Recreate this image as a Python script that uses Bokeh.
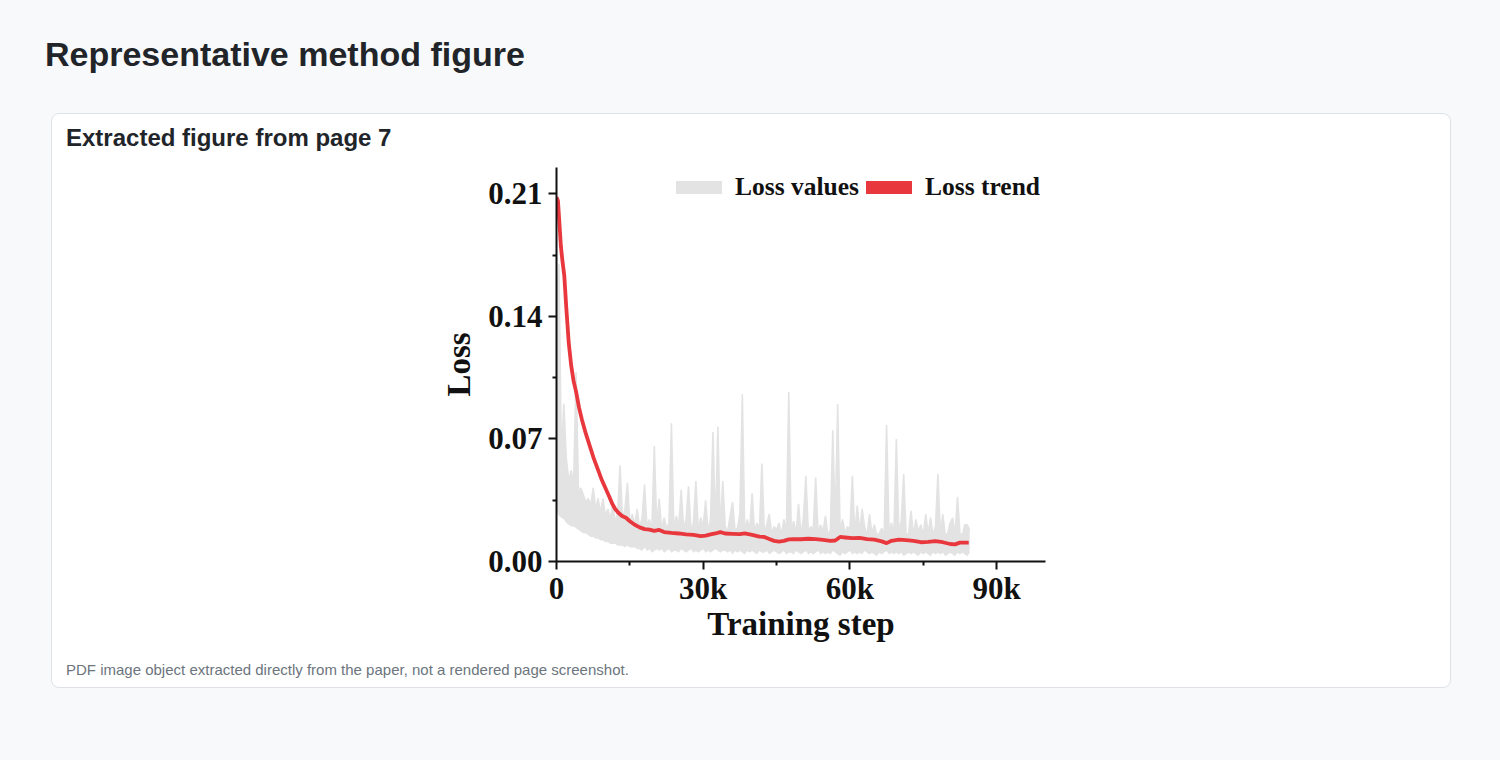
from bokeh.plotting import figure
from bokeh.models import Range1d, FixedTicker, Legend, LegendItem, Div
from bokeh.layouts import column
from bokeh.embed import file_html
from bokeh.resources import INLINE

page_title = "Representative method figure"
card_title = "Extracted figure from page 7"
caption = "PDF image object extracted directly from the paper, not a rendered page screenshot."

x_label = "Training step"
y_label = "Loss"
x_ticks = [0, 30000, 60000, 90000]
x_tick_labels = ["0", "30k", "60k", "90k"]
x_minor = [15000, 45000, 75000]
y_ticks = [0.0, 0.07, 0.14, 0.21]
y_tick_labels = ["0.00", "0.07", "0.14", "0.21"]
y_minor = [0.035, 0.105, 0.175]

series_names = ["Loss values", "Loss trend"]

# raw loss, upper envelope of the noisy curve, every 500 steps
loss_values = [
    0.150, 0.170, 0.060, 0.090, 0.059, 0.046, 0.052, 0.044, 0.108, 0.040,
    0.042, 0.038, 0.034, 0.036, 0.032, 0.042, 0.030, 0.036, 0.028, 0.036,
    0.026, 0.030, 0.024, 0.033, 0.022, 0.028, 0.055, 0.024, 0.030, 0.045,
    0.022, 0.027, 0.021, 0.030, 0.019, 0.025, 0.044, 0.020, 0.024, 0.018,
    0.066, 0.020, 0.036, 0.018, 0.025, 0.019, 0.022, 0.079, 0.018, 0.026,
    0.020, 0.041, 0.019, 0.024, 0.043, 0.018, 0.022, 0.046, 0.018, 0.025,
    0.020, 0.035, 0.017, 0.024, 0.074, 0.019, 0.077, 0.018, 0.046, 0.020,
    0.017, 0.026, 0.034, 0.018, 0.019, 0.027, 0.0955, 0.017, 0.024, 0.018,
    0.039, 0.017, 0.022, 0.018, 0.056, 0.016, 0.021, 0.027, 0.016, 0.020,
    0.018, 0.022, 0.015, 0.024, 0.017, 0.097, 0.018, 0.023, 0.016, 0.033,
    0.015, 0.025, 0.049, 0.017, 0.020, 0.018, 0.048, 0.016, 0.021, 0.017,
    0.026, 0.015, 0.018, 0.075, 0.022, 0.090, 0.017, 0.024, 0.016, 0.020,
    0.018, 0.049, 0.016, 0.032, 0.017, 0.030, 0.020, 0.015, 0.027, 0.016,
    0.021, 0.015, 0.016, 0.019, 0.015, 0.078, 0.017, 0.022, 0.016, 0.070,
    0.017, 0.023, 0.050, 0.015, 0.016, 0.029, 0.015, 0.024, 0.017, 0.021,
    0.015, 0.027, 0.016, 0.025, 0.015, 0.020, 0.050, 0.016, 0.027, 0.015,
    0.016, 0.022, 0.025, 0.015, 0.037, 0.016, 0.015, 0.021, 0.021, 0.018,
]
# raw loss, lower envelope of the noisy curve, same steps
loss_floor = [
    0.030, 0.026, 0.025, 0.024, 0.022, 0.021, 0.020, 0.020, 0.019, 0.018,
    0.017, 0.016, 0.016, 0.015, 0.014, 0.014, 0.013, 0.013, 0.012, 0.012,
    0.011, 0.011, 0.010, 0.010, 0.010, 0.009, 0.009, 0.009, 0.008, 0.009,
    0.008, 0.008, 0.008, 0.007, 0.007, 0.006, 0.008, 0.006, 0.007, 0.005,
    0.006, 0.007, 0.006, 0.007, 0.005, 0.006, 0.007, 0.005, 0.006, 0.006,
    0.005, 0.007, 0.006, 0.005, 0.006, 0.007, 0.005, 0.006, 0.005, 0.006,
    0.007, 0.005, 0.006, 0.005, 0.006, 0.007, 0.006, 0.005, 0.006, 0.006,
    0.005, 0.006, 0.004, 0.006, 0.005, 0.006, 0.005, 0.004, 0.006, 0.005,
    0.006, 0.005, 0.004, 0.006, 0.005, 0.005, 0.006, 0.004, 0.005, 0.006,
    0.005, 0.004, 0.005, 0.006, 0.004, 0.005, 0.005, 0.004, 0.006, 0.005,
    0.004, 0.005, 0.006, 0.004, 0.005, 0.004, 0.005, 0.006, 0.004, 0.005,
    0.004, 0.005, 0.004, 0.006, 0.005, 0.004, 0.003, 0.005, 0.004, 0.005,
    0.006, 0.004, 0.005, 0.004, 0.005, 0.004, 0.006, 0.005, 0.004, 0.005,
    0.004, 0.003, 0.005, 0.004, 0.005, 0.006, 0.004, 0.005, 0.004, 0.005,
    0.004, 0.005, 0.003, 0.004, 0.005, 0.004, 0.005, 0.004, 0.003, 0.005,
    0.004, 0.005, 0.004, 0.003, 0.005, 0.004, 0.005, 0.004, 0.005, 0.003,
    0.004, 0.005, 0.004, 0.003, 0.005, 0.004, 0.005, 0.004, 0.003, 0.005,
]
loss_steps = [500 * i for i in range(len(loss_values))]

trend_steps = [
    0, 300, 600, 900, 1200, 1600, 2000, 2500, 3000, 3500,
    4000, 4600, 5200, 6000, 6800, 7600, 8400, 9200, 10000, 10800,
    11400, 12000, 12600, 13400, 14200, 15000, 16000, 17000, 18000, 19000,
    20000, 21000, 22000, 23500, 25000, 26500, 28000, 29500, 30500, 31500,
    32500, 33500, 34500, 36000, 37500, 38500, 40000, 41500, 42500, 43500,
    44500, 45500, 46500, 47500, 48500, 50000, 51500, 53000, 54500, 56000,
    57000, 58000, 59000, 60500, 62000, 63500, 65000, 66500, 67500, 68500,
    70000, 71500, 73000, 74500, 76000, 77500, 79000, 80500, 81500, 82500,
    84300,
]
trend_values = [
    0.208, 0.206, 0.193, 0.180, 0.172, 0.163, 0.145, 0.125, 0.112, 0.103,
    0.097, 0.088, 0.081, 0.073, 0.066, 0.059, 0.053, 0.047, 0.042, 0.037,
    0.033, 0.030, 0.028, 0.026, 0.025, 0.023, 0.021, 0.0195, 0.0185, 0.0182,
    0.0175, 0.0180, 0.0168, 0.0163, 0.0160, 0.0155, 0.0152, 0.0145, 0.0148, 0.0155,
    0.0160, 0.0168, 0.0160, 0.0158, 0.0156, 0.0160, 0.0152, 0.0142, 0.0140, 0.0128,
    0.0118, 0.0114, 0.0118, 0.0126, 0.0128, 0.0127, 0.0130, 0.0128, 0.0124, 0.0118,
    0.0120, 0.0140, 0.0137, 0.0133, 0.0135, 0.0128, 0.0125, 0.0115, 0.0105, 0.0118,
    0.0125, 0.0122, 0.0118, 0.0110, 0.0112, 0.0116, 0.0110, 0.0100, 0.0098, 0.0108,
    0.0108,
]

GRAY = "#e3e3e3"
RED = "#e8383d"
SERIF = "Liberation Serif"

# figure placed inside the card: page x 52..1450, y 151..660
FIG_X, FIG_Y, FIG_W, FIG_H = 52, 151, 1398, 509
FL, FR, FT, FB = 556, 1045, 167, 561   # frame edges in page px

p = figure(width=FIG_W, height=FIG_H, x_range=Range1d(0, 100000), y_range=Range1d(0, 0.225),
           output_backend="svg", toolbar_location=None,
           min_border_left=FL - FIG_X, min_border_right=FIG_X + FIG_W - FR,
           min_border_top=FT - FIG_Y, min_border_bottom=FIG_Y + FIG_H - FB,
           margin=(0, 0, 0, 0))
p.border_fill_color = "white"
p.background_fill_color = "white"
p.outline_line_color = None
p.grid.visible = False

# data
p.varea(x=loss_steps, y1=loss_floor, y2=loss_values, fill_color=GRAY)
p.line(loss_steps, loss_values, line_color=GRAY, line_width=1.6)
p.line(trend_steps, trend_values, line_color=RED, line_width=3.8, line_join="round")

# legend swatches (invisible single-point renderers with thick lines)
nan = float("nan")
leg_gray = p.line([nan], [nan], line_color=GRAY, line_width=13, line_cap="round")
leg_red = p.line([nan], [nan], line_color=RED, line_width=13, line_cap="round")
legend = Legend(items=[LegendItem(label=series_names[0], renderers=[leg_gray]),
                       LegendItem(label=series_names[1], renderers=[leg_red])],
                orientation="horizontal", location=(120, 359),
                padding=0, margin=0, spacing=7,
                glyph_width=46, glyph_height=26, label_height=26,
                label_standoff=13,
                label_text_font=SERIF, label_text_font_style="bold",
                label_text_font_size="25.5px", label_text_color="#111111",
                background_fill_alpha=0, border_line_alpha=0)
p.add_layout(legend)

# axes
for ax in (p.xaxis[0], p.yaxis[0]):
    ax.axis_line_width = 2
    ax.axis_line_color = "#111111"
    ax.major_tick_line_width = 2
    ax.major_tick_line_color = "#111111"
    ax.minor_tick_line_width = 2
    ax.minor_tick_line_color = "#111111"
    ax.major_tick_in = 0
    ax.major_tick_out = 8
    ax.minor_tick_in = 0
    ax.minor_tick_out = 4
    ax.major_label_text_font = SERIF
    ax.major_label_text_font_style = "bold"
    ax.major_label_text_font_size = "31px"
    ax.major_label_text_color = "#111111"
    ax.axis_label_text_font = SERIF
    ax.axis_label_text_font_style = "bold"
    ax.axis_label_text_font_size = "33px"
    ax.axis_label_text_color = "#111111"

p.xaxis.ticker = FixedTicker(ticks=x_ticks, minor_ticks=x_minor)
p.xaxis.major_label_overrides = dict(zip(x_ticks, x_tick_labels))
p.xaxis.major_label_standoff = 1
p.xaxis.axis_label = x_label
p.xaxis.axis_label_standoff = -3

p.yaxis.ticker = FixedTicker(ticks=y_ticks, minor_ticks=y_minor)
p.yaxis.major_label_overrides = dict(zip(y_ticks, y_tick_labels))
p.yaxis.major_label_standoff = 6
p.yaxis.axis_label = y_label
p.yaxis.axis_label_standoff = 8


def text_div(text, size, weight, color, line_h, width, margin):
    html = ('<div style="font-family:\'Liberation Sans\',Arial,sans-serif;'
            f'font-size:{size}px;font-weight:{weight};color:{color};'
            f'line-height:{line_h}px;white-space:nowrap;margin:0;padding:0;">{text}</div>')
    return Div(text=html, width=width, height=line_h, margin=margin)


title_div = text_div(page_title, 34, 700, "#212529", 38, 900, (35, 0, 0, 45))
card_title_div = text_div(card_title, 24, 700, "#212529", 26, 800, (11, 0, 0, 14))
caption_div = text_div(caption, 15, 400, "#6c757d", 17, 900, (1, 0, 0, 14))

card = column(card_title_div, p, caption_div, width=1400, height=575,
              margin=(40, 0, 0, 51),
              styles={"background-color": "white", "border": "1px solid #dee2e6",
                      "border-radius": "8px", "box-sizing": "border-box"})

root = column(title_div, card, width=1500, height=760, margin=(0, 0, 0, 0),
              styles={"background-color": "#f8f9fa"})

open("out.html", "w").write(file_html(root, INLINE))
